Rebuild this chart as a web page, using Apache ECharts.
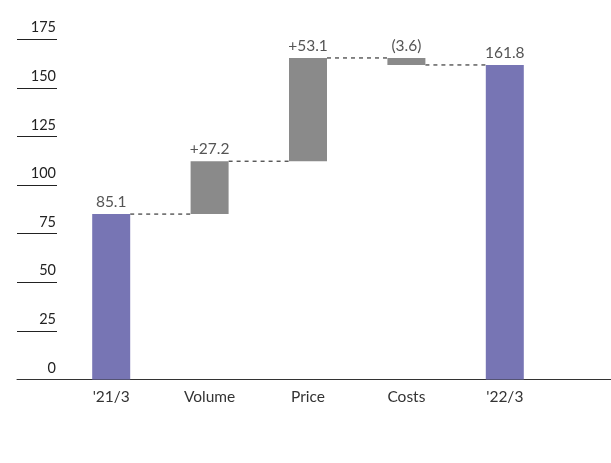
<!DOCTYPE html>
<html><head><meta charset="utf-8">
<script src="https://cdn.jsdelivr.net/npm/echarts@6/dist/echarts.min.js"></script>
<style>html,body{margin:0;padding:0;background:#fff}#c{width:611px;height:463px}</style>
</head><body><div id="c"></div>
<script>
const categories = ["'21/3", "Volume", "Price", "Costs", "'22/3"];
const deltas = [85.1, 27.2, 53.1, -3.6, 161.8];
const isTotal = [true, false, false, false, true];
const valueLabels = ["85.1", "+27.2", "+53.1", "(3.6)", "161.8"];
const yTicks = [0, 25, 50, 75, 100, 125, 150, 175];

const PURPLE = '#7775b4', GRAY = '#8a8a8a';
const FONT = 'Lato';

// build waterfall base / visible parts
const base = [], vis = [], levels = [];
let run = 0;
deltas.forEach((d, i) => {
  if (isTotal[i]) { base.push(0); vis.push(d); run = d; }
  else if (d >= 0) { base.push(run); vis.push(d); run += d; }
  else { base.push(run + d); vis.push(-d); run += d; }
  levels.push(run);
});
const connectors = [];
for (let i = 0; i < categories.length - 1; i++) connectors.push([i, levels[i]]);

const TOP = 39.3, BOTTOM = 463 - 379.5;
const BW = 38;
const chart = echarts.init(document.getElementById('c'));
chart.setOption({
  animation: false,
  grid: [
    { left: 17, width: 40, top: TOP, bottom: BOTTOM },
    { left: 62, width: 492, top: TOP, bottom: BOTTOM },
    { left: 17, right: 0, top: TOP, bottom: BOTTOM }
  ],
  xAxis: [
    { gridIndex: 0, type: 'value', show: false },
    { gridIndex: 1, type: 'category', data: categories,
      axisLine: { show: false }, axisTick: { show: false },
      axisLabel: { color: '#333', fontFamily: FONT, fontSize: 15.5, margin: 9 } },
    { gridIndex: 2, type: 'value', min: 0, max: 1,
      axisLine: { show: true, lineStyle: { color: '#333', width: 1 } },
      axisTick: { show: false }, axisLabel: { show: false }, splitLine: { show: false } }
  ],
  yAxis: [
    { gridIndex: 0, type: 'value', position: 'right', min: yTicks[0], max: yTicks[yTicks.length - 1], interval: 25,
      axisLine: { show: false }, axisTick: { show: false },
      splitLine: { show: true, lineStyle: { color: '#222', width: 1 } },
      axisLabel: { inside: true, margin: 1, color: '#222', fontFamily: FONT, fontSize: 14.5,
        verticalAlign: 'bottom', padding: [0, 0, 4, 0] } },
    { gridIndex: 1, type: 'value', min: yTicks[0], max: yTicks[yTicks.length - 1], show: false },
    { gridIndex: 2, type: 'value', min: 0, max: 1, show: false }
  ],
  series: [
    { type: 'custom', xAxisIndex: 1, yAxisIndex: 1, data: connectors, z: 1,
      renderItem: function (params, api) {
        const p = api.coord([api.value(0), api.value(1)]);
        const band = api.size([1, 0])[0];
        return { type: 'line',
          shape: { x1: p[0] + BW / 2, y1: p[1], x2: p[0] + band - BW / 2, y2: p[1] },
          style: { stroke: '#111', lineWidth: 1, lineDash: [4, 4] } };
      } },
    { type: 'bar', xAxisIndex: 1, yAxisIndex: 1, stack: 'w', data: base, barWidth: BW,
      itemStyle: { color: 'transparent' }, z: 2 },
    { type: 'bar', xAxisIndex: 1, yAxisIndex: 1, stack: 'w', barWidth: BW, z: 2,
      data: vis.map((v, i) => ({ value: v, itemStyle: { color: isTotal[i] ? PURPLE : GRAY } })),
      label: { show: true, position: 'top', distance: 4, color: '#555', fontFamily: FONT, fontSize: 15.5,
        formatter: p => valueLabels[p.dataIndex] } }
  ]
});
</script></body></html>
